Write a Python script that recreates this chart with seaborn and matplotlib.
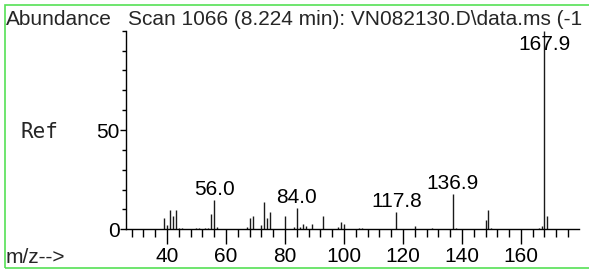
import matplotlib
matplotlib.use('Agg')
import matplotlib.pyplot as plt
from matplotlib.patches import Rectangle
from matplotlib.ticker import MultipleLocator
import seaborn as sns
import pandas as pd

sns.set_style('white')
plt.rcParams['font.family'] = ['Liberation Sans', 'DejaVu Sans']

# spectrum (m/z, relative abundance)
mz = [39, 40, 41, 42, 43, 44, 45, 50, 51, 53, 54, 55, 56.0, 57,
      67, 68, 69, 72, 73, 74, 75, 80, 83, 84.0, 85, 86, 87, 89, 93,
      98, 99, 100, 105, 106, 117.8, 124, 130, 136.9, 138,
      148, 149, 150, 166, 167, 167.9, 169]
abundance = [5.7, 2.0, 9.6, 6.7, 9.6, 0.6, 0.5, 0.8, 0.7, 0.7, 0.8, 7.7, 14.6, 1.0,
             1.0, 5.7, 6.7, 2.0, 13.6, 5.7, 8.7, 6.7, 1.0, 10.7, 1.0, 2.8, 1.7, 2.8, 6.7,
             1.0, 3.7, 2.8, 0.8, 0.8, 8.7, 1.8, 0.9, 17.7, 0.7,
             4.9, 9.6, 0.8, 0.8, 1.8, 100.0, 6.7]
labelled = [56.0, 84.0, 117.8, 136.9, 167.9]

# the header runs off the right edge in the original, only this much shows
title = 'Scan 1066 (8.224 min): VN082130.D\\data.ms (-1'

df = pd.DataFrame({'mz': mz, 'abundance': abundance})

fig = plt.figure(figsize=(5.89, 2.70), dpi=100)
ax = fig.add_axes([126 / 589, 1 - 229.3 / 270, (579 - 126) / 589, (229.3 - 30.7) / 270])

ax.vlines(df['mz'], 0, df['abundance'], color='#1a1a1a', linewidth=1.0)
sns.despine(ax=ax)
ax.set_xlim(26.1, 179.7)
ax.set_ylim(0, 100)
for s in ['left', 'bottom']:
    ax.spines[s].set_color('black')
    ax.spines[s].set_linewidth(1.0)

ax.set_xticks(range(40, 161, 20))
ax.xaxis.set_minor_locator(MultipleLocator(4))
ax.set_yticks([0, 50])
ax.yaxis.set_minor_locator(MultipleLocator(10))
ax.tick_params(bottom=True, left=True, which='both')
ax.tick_params(axis='x', which='major', direction='out', length=11, width=1, labelsize=15, pad=2, colors='black')
ax.tick_params(axis='x', which='minor', direction='out', length=6, width=1, colors='black')
ax.tick_params(axis='y', which='major', direction='out', length=4, width=1, labelsize=15, pad=0.5, colors='black')
ax.tick_params(axis='y', which='minor', direction='out', length=3, width=1, colors='black')
ax.set_xlabel('')
ax.set_ylabel('')

for x, h in zip(df['mz'], df['abundance']):
    if x in labelled:
        ax.text(x, min(h + 2.5, 90.5), f'{x:.1f}', ha='center', va='baseline',
                fontsize=15, color='black', clip_on=False)

fig.text(6 / 589, 1 - 25 / 270, 'Abundance', fontsize=15, va='baseline', ha='left')
fig.text(128 / 589, 1 - 25 / 270, title, fontsize=15, va='baseline', ha='left')
fig.text(6 / 589, 1 - 263 / 270, 'm/z-->', fontsize=15, va='baseline', ha='left')
fig.text(20 / 589, 1 - 138 / 270, 'Ref', fontsize=15, va='baseline', ha='left',
         family='DejaVu Sans Mono')

fig.patches.append(Rectangle((4.5 / 589, 1 - 268 / 270), 1.2, (268 - 5) / 270,
                             transform=fig.transFigure, fill=False,
                             edgecolor='#55e055', linewidth=1.2))

fig.savefig('out.png', dpi=100)
